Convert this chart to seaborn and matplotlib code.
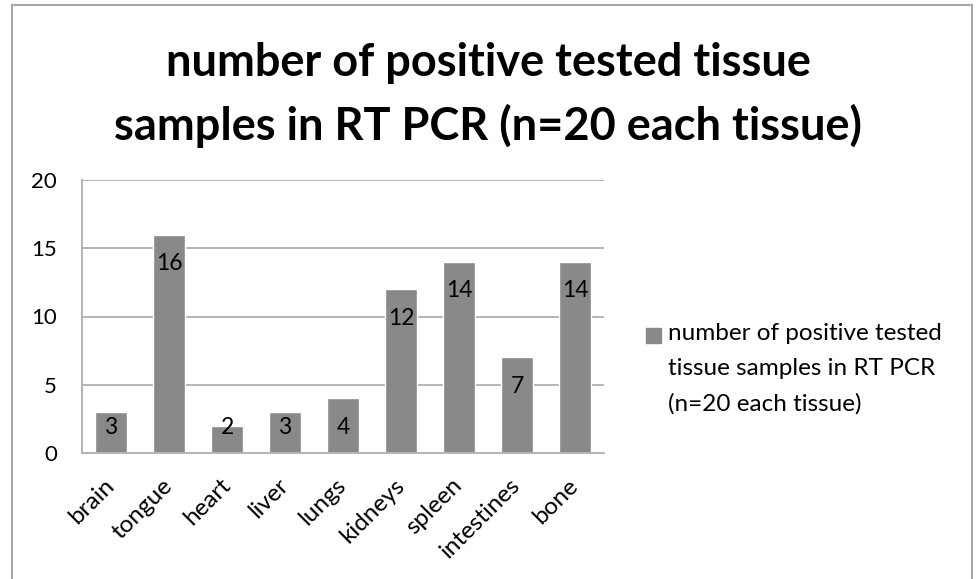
import matplotlib
matplotlib.use('Agg')
import matplotlib.pyplot as plt
from matplotlib.patches import Rectangle
import seaborn as sns

# data
tissues = ['brain', 'tongue', 'heart', 'liver', 'lungs', 'kidneys', 'spleen', 'intestines', 'bone']
positives = [3, 16, 2, 3, 4, 12, 14, 7, 14]
y_ticks = [0, 5, 10, 15, 20]
title = 'number of positive tested tissue\nsamples in RT PCR (n=20 each tissue)'
series_name = 'number of positive tested\ntissue samples in RT PCR\n(n=20 each tissue)'

bar_color = '#898989'
grid_color = '#b4b4b4'

sns.set_style('white')
plt.rcParams['font.family'] = ['Lato', 'DejaVu Sans']
plt.rcParams['text.color'] = 'black'
plt.rcParams['xtick.color'] = 'black'
plt.rcParams['ytick.color'] = 'black'

W, H = 976, 579
fig = plt.figure(figsize=(W / 100, H / 100), dpi=100)
ax = fig.add_axes([82 / W, 1 - 453 / H, (604 - 82) / W, (453 - 180) / H])

sns.barplot(x=tissues, y=positives, color=bar_color, saturation=1, width=0.55, ax=ax)

ax.set_ylim(0, 20)
ax.set_xlim(-0.5, len(tissues) - 0.5)
ax.set_yticks(y_ticks)
ax.set_xlabel('')
ax.set_ylabel('')

ax.yaxis.grid(True, color=grid_color, lw=1.4)
ax.set_axisbelow(True)
for side in ['top', 'right']:
    ax.spines[side].set_visible(False)
for side in ['left', 'bottom']:
    ax.spines[side].set_color(grid_color)
    ax.spines[side].set_linewidth(1.4)

ax.tick_params(axis='y', length=0, pad=18, labelsize=16)
ax.tick_params(axis='x', length=0, pad=21, labelsize=17.5)
for lbl in ax.get_xticklabels():
    lbl.set_rotation(45)
    lbl.set_ha('right')
    lbl.set_va('center')
    lbl.set_rotation_mode('anchor')

# value labels inside the bar end, kept above the baseline for short bars
for patch, v in zip(ax.patches, positives):
    cx = patch.get_x() + patch.get_width() / 2
    ax.text(cx, max(v - 2.13, 1.9), str(v), ha='center', va='center', fontsize=16.5)

fig.text(0.5, 1 - 95 / H, title, ha='center', va='center',
         fontsize=32.5, fontweight='bold', linespacing=1.55)

# legend-like entry on the right
fig.patches.append(Rectangle((646 / W, 1 - 343 / H), 15 / W, 15 / H,
                             transform=fig.transFigure, color=bar_color))
fig.text(668 / W, 1 - 323 / H, series_name, ha='left', va='top',
         fontsize=17.5, linespacing=1.8)

# chart frame
fig.patches.append(Rectangle((12 / W, -0.05), (972 - 12) / W, 1.05 - 5 / H,
                             transform=fig.transFigure, fill=False,
                             edgecolor='#a8a8a8', lw=1.5))

fig.savefig('out.png', dpi=100)
